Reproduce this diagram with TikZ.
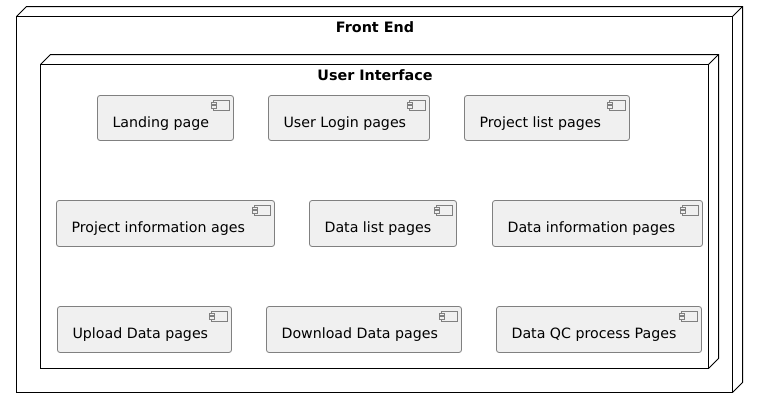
\documentclass[tikz,border=0pt]{standalone}
\usepackage{fontspec}
\setmainfont{DejaVu Sans}
\tikzset{
  x=0.75pt,y=-0.75pt,
  framefront/.style={draw=black,line width=0.75pt,inner sep=0pt,outer sep=0pt,anchor=north west},
  frameedge/.style={draw=black,line width=0.75pt,line join=miter},
  frametitle/.style={font=\bfseries\fontsize{10.75}{12}\selectfont,inner sep=0pt,anchor=base,text=black},
  compbox/.style={draw=black!50,fill=black!6,line width=0.6pt,rounded corners=1.9pt,inner sep=0pt,outer sep=0pt,anchor=north west},
  complabel/.style={font=\fontsize{10.65}{12}\selectfont,inner sep=0pt,anchor=base west,text=black},
  compicon/.style={draw=black!50,fill=black!6,line width=0.45pt},
}
\newcommand{\frameboxdraw}[6]{% name x1 y1 x2 y2 title
  \node[framefront,minimum width=#4*0.75pt-#2*0.75pt,minimum height=#5*0.75pt-#3*0.75pt] (#1) at (#2,#3) {};
  \draw[frameedge] (#1.north west) -- ++(10,-10) -- ($(#1.north east)+(10,-10)$) -- ($(#1.south east)+(10,-10)$) -- (#1.south east);
  \draw[frameedge] (#1.north east) -- ++(10,-10);
  \node[frametitle] (#1t) at ($(#1.north)+(0.5,16)$) {#6};
}
\newcommand{\compdraw}[6]{% name x1 y1 x2 y2 label
  \node[compbox,minimum width=#4*0.75pt-#2*0.75pt,minimum height=#5*0.75pt-#3*0.75pt] (#1) at (#2,#3) {};
  \node[complabel] (#1l) at ($(#1.north west)+(14.8,32)$) {#6};
  \draw[compicon] ($(#1.north east)+(-20,4.5)$) rectangle ($(#1.north east)+(-4.5,14.5)$);
  \draw[compicon] ($(#1.north east)+(-22.5,6.5)$) rectangle ($(#1.north east)+(-17.5,9)$);
  \draw[compicon] ($(#1.north east)+(-22.5,10)$) rectangle ($(#1.north east)+(-17.5,12.5)$);
}
\usetikzlibrary{calc}
\begin{document}
\begin{tikzpicture}
\useasboundingbox (0,0) rectangle (758,408);
\frameboxdraw{outer}{16.5}{16.5}{732.5}{392.5}{Front End}
\frameboxdraw{inner}{40.5}{64.5}{708.5}{368.5}{User Interface}
\compdraw{a}{97.5}{95.5}{233.5}{140.5}{Landing page}
\compdraw{b}{268.5}{95.5}{429.5}{140.5}{User Login pages}
\compdraw{c}{464.5}{95.5}{629.5}{140.5}{Project list pages}
\compdraw{d}{56.5}{200.5}{274.5}{246.5}{Project information ages}
\compdraw{e}{309.5}{200.5}{456.5}{246.5}{Data list pages}
\compdraw{f}{492.5}{200.5}{702.5}{246.5}{Data information pages}
\compdraw{g}{57.5}{306.5}{231.5}{352.5}{Upload Data pages}
\compdraw{h}{266.5}{306.5}{461.5}{352.5}{Download Data pages}
\compdraw{i}{496.5}{306.5}{701.5}{352.5}{Data QC process Pages}
\end{tikzpicture}
\end{document}
